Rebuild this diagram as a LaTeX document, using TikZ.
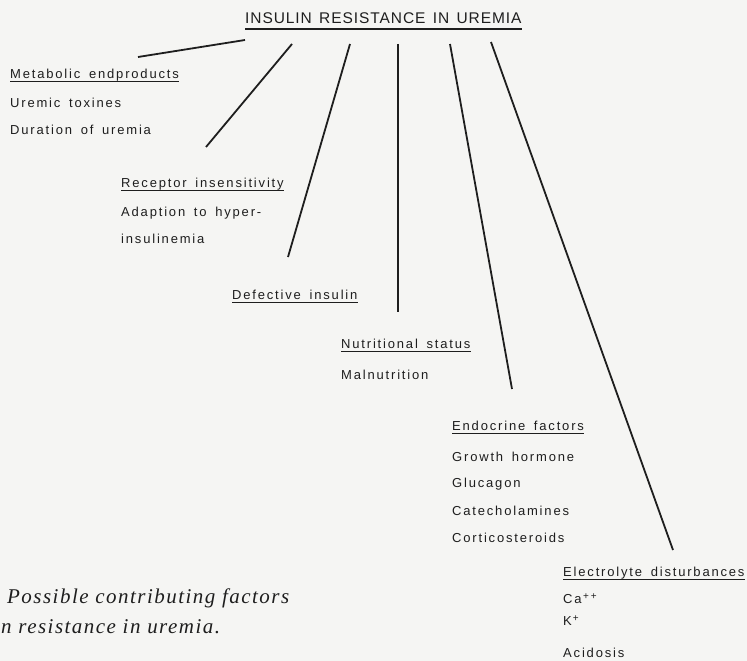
\documentclass[tikz,border=0pt]{standalone}
\usepackage{fontspec}
\setmainfont{Liberation Sans}
\newfontfamily\capfont[LetterSpace=7]{Liberation Serif}
\newfontfamily\spacedfont[LetterSpace=14,WordSpace=1.6]{Liberation Sans}
\newfontfamily\titlefont[LetterSpace=6,WordSpace=1.4]{Liberation Sans}
\definecolor{ink}{HTML}{1E1E1E}
\definecolor{paper}{HTML}{F5F5F3}
\begin{document}
\begin{tikzpicture}[x=1pt,y=-1pt,
  lbl/.style={anchor=base west, inner sep=0pt, text=ink, font=\spacedfont\fontsize{13}{15}\selectfont},
  ttl/.style={anchor=base west, inner sep=0pt, text=ink, font=\titlefont\fontsize{15.5}{18}\selectfont},
  captxt/.style={anchor=base west, inner sep=0pt, text=ink, font=\capfont\itshape\fontsize{21}{24}\selectfont},
  ul/.style={draw=ink, line width=1.6pt},
  conn/.style={draw=ink, line width=1.8pt}]
\fill[paper] (0,0) rectangle (747,661);
\useasboundingbox (0,0) rectangle (747,661);

% title
\node[ttl] (title) at (245,24) {INSULIN RESISTANCE IN UREMIA};
\draw[ul] ([yshift=-5pt]title.base west) -- ([yshift=-5pt]title.base east);

% Metabolic
\node[lbl] (met) at (10,78) {Metabolic endproducts};
\draw[ul] ([yshift=-3.5pt]met.base west) -- ([yshift=-3.5pt]met.base east);
\node[lbl] (met1) at (10,107) {Uremic toxines};
\node[lbl] (met2) at (10,134) {Duration of uremia};

% Receptor
\node[lbl] (rec) at (121,187) {Receptor insensitivity};
\draw[ul] ([yshift=-3.5pt]rec.base west) -- ([yshift=-3.5pt]rec.base east);
\node[lbl] (rec1) at (121,216) {Adaption to hyper-};
\node[lbl] (rec2) at (121,243) {insulinemia};

% Defective
\node[lbl] (def) at (232,299) {Defective insulin};
\draw[ul] ([yshift=-3.5pt]def.base west) -- ([yshift=-3.5pt]def.base east);

% Nutritional
\node[lbl] (nut) at (341,348) {Nutritional status};
\draw[ul] ([yshift=-3.5pt]nut.base west) -- ([yshift=-3.5pt]nut.base east);
\node[lbl] (nut1) at (341,379) {Malnutrition};

% Endocrine
\node[lbl] (endo) at (452,430) {Endocrine factors};
\draw[ul] ([yshift=-3.5pt]endo.base west) -- ([yshift=-3.5pt]endo.base east);
\node[lbl] (endo1) at (452,461) {Growth hormone};
\node[lbl] (endo2) at (452,487) {Glucagon};
\node[lbl] (endo3) at (452,515) {Catecholamines};
\node[lbl] (endo4) at (452,542) {Corticosteroids};

% Electrolyte
\node[lbl] (ele) at (563,576) {Electrolyte disturbances};
\draw[ul] ([yshift=-3.5pt]ele.base west) -- ([yshift=-3.5pt]ele.base east);
\node[lbl] (ele1) at (563,603) {Ca\hspace{1.5pt}\raisebox{4pt}{\fontsize{10}{12}\selectfont +\hspace{2pt}+}};
\node[lbl] (ele2) at (563,625) {K\hspace{1pt}\raisebox{4pt}{\fontsize{10}{12}\selectfont +}};
\node[lbl] (ele3) at (563,657) {Acidosis};

% caption
\node[captxt] (cap1) at (7,603) {Possible contributing factors};
\node[captxt] (cap2) at (1,633) {n resistance in uremia.};

% connectors
\coordinate (a1) at (245,40); \coordinate (b1) at (138,57);
\coordinate (a2) at (292,44); \coordinate (b2) at (206,147);
\coordinate (a3) at (350,44); \coordinate (b3) at (288,257);
\coordinate (a4) at (398,44); \coordinate (b4) at (398,312);
\coordinate (a5) at (450,44); \coordinate (b5) at (512,389);
\coordinate (a6) at (491,42); \coordinate (b6) at (673,550);
\foreach \i in {1,...,6} { \draw[conn] (a\i) -- (b\i); }
\end{tikzpicture}
\end{document}
